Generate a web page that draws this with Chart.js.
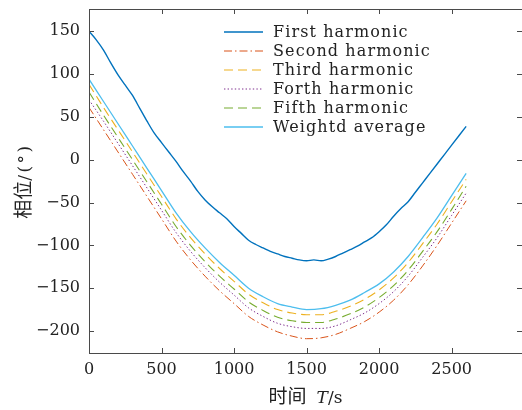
<!DOCTYPE html>
<html>
<head>
<meta charset="utf-8">
<script src="https://cdn.jsdelivr.net/npm/chart.js@4/dist/chart.umd.min.js"></script>
<style>
  html, body { margin: 0; padding: 0; background: #fff; overflow: hidden; }
  #wrap { width: 522px; height: 410px; }
</style>
</head>
<body>
<div id="wrap"><canvas id="phase" width="522" height="410"></canvas></div>
<script>
// Sampling instants (s)
const timeFine = [0,50,100,150,200,250,300,350,400,450,500,550,600,650,700,750,800,850,900,950,
  1000,1050,1100,1150,1200,1250,1300,1350,1400,1450,1500,1550,1600,1650,1700,1750,1800,1850,1900,1950,
  2000,2050,2100,2150,2200,2250,2300,2350,2400,2450,2500,2550,2600];
const timeCoarse = [0,100,200,300,400,500,600,700,800,900,1000,1100,1200,1300,1400,1500,1600,1700,1800,1900,
  2000,2100,2200,2300,2400,2500,2600];

// Phase (degrees) of each harmonic
const firstHarmonic = [150,140,128,113,99,87,75,60,45,31,20,9,-2,-14,-25,-37,-47,-55,-62,-69,
  -78,-86,-94,-99,-103,-107,-110,-113,-115,-117,-118,-117,-118,-116,-113,-109,-105,-101,-96,-91,
  -84,-76,-66,-57,-49,-38,-27,-16,-5,6,17,28,39];
const secondHarmonic = [61,35,9,-17,-43,-69,-95,-117,-136,-153,-168,-183,-193,-201,-206,-209,-208,-204,-197,-189,
  -178,-164,-146,-124,-100,-74,-48];
const thirdHarmonic = [88,61,35,9,-17,-43,-69,-91,-110,-127,-142,-157,-167,-175,-179,-181,-181,-177,-171,-163,
  -152,-138,-120,-98,-75,-49,-23];
const forthHarmonic = [70,45,19,-7,-33,-59,-85,-107,-126,-143,-158,-173,-183,-191,-195,-197,-197,-194,-187,-179,
  -168,-154,-136,-114,-91,-65,-39];
const fifthHarmonic = [79,52,26,0,-26,-52,-78,-100,-119,-136,-151,-166,-176,-184,-188,-190,-190,-186,-180,-172,
  -161,-147,-129,-107,-84,-58,-31];
const weightedAverage = [94,68,42,16,-10,-36,-62,-84,-103,-120,-135,-150,-160,-168,-172,-175,-174,-170,-164,-155,
  -145,-131,-113,-91,-68,-42,-16];

const seriesNames = ['First harmonic','Second harmonic','Third harmonic','Forth harmonic','Fifth harmonic','Weightd average'];
const xTickValues = [0,500,1000,1500,2000,2500];
const yTickValues = [150,100,50,0,-50,-100,-150,-200];

const SERIF = '"DejaVu Serif", "Liberation Serif", serif';
const CJK = '"Noto Sans CJK SC", "Noto Sans CJK JP", sans-serif';
const INK = '#222';
const FRAME = '#4a4a4a';

function pairs(xs, ys) { return ys.map((y, i) => ({ x: xs[i], y })); }

const datasets = [
  { label: seriesNames[0], data: pairs(timeFine, firstHarmonic), borderColor: '#0072BD', borderWidth: 1.4 },
  { label: seriesNames[1], data: pairs(timeCoarse, secondHarmonic), borderColor: '#D95319', borderWidth: 1, borderDash: [8,3,1.5,3] },
  { label: seriesNames[2], data: pairs(timeCoarse, thirdHarmonic), borderColor: '#EDB120', borderWidth: 1.1, borderDash: [9,5] },
  { label: seriesNames[3], data: pairs(timeCoarse, forthHarmonic), borderColor: '#7E2F8E', borderWidth: 1, borderDash: [1.4,2.2] },
  { label: seriesNames[4], data: pairs(timeCoarse, fifthHarmonic), borderColor: '#77AC30', borderWidth: 1.1, borderDash: [9,5] },
  { label: seriesNames[5], data: pairs(timeCoarse, weightedAverage), borderColor: '#4DBEEE', borderWidth: 1.3 }
].map(d => Object.assign({
  pointRadius: 0,
  fill: false,
  cubicInterpolationMode: 'monotone'
}, d));

// Closed frame with inward tick marks on all four sides
const framePlugin = {
  id: 'frame',
  afterDatasetsDraw(chart) {
    const { ctx, chartArea: ca, scales } = chart;
    ctx.save();
    ctx.strokeStyle = FRAME;
    ctx.lineWidth = 1;
    ctx.strokeRect(Math.round(ca.left) + 0.5, Math.round(ca.top) + 0.5,
      Math.round(ca.right - ca.left), Math.round(ca.bottom - ca.top));
    const len = 5;
    ctx.beginPath();
    xTickValues.forEach(v => {
      const x = Math.round(scales.x.getPixelForValue(v)) + 0.5;
      ctx.moveTo(x, ca.bottom); ctx.lineTo(x, ca.bottom - len);
      ctx.moveTo(x, ca.top); ctx.lineTo(x, ca.top + len);
    });
    yTickValues.forEach(v => {
      const y = Math.round(scales.y.getPixelForValue(v)) + 0.5;
      ctx.moveTo(ca.left, y); ctx.lineTo(ca.left + len, y);
      ctx.moveTo(ca.right, y); ctx.lineTo(ca.right - len, y);
    });
    ctx.stroke();
    ctx.restore();
  }
};

// Series key in the upper right of the plot
const keyPlugin = {
  id: 'seriesKey',
  afterDraw(chart) {
    const { ctx, chartArea: ca } = chart;
    const sampleLeft = ca.left + 135, sampleRight = ca.left + 174, textLeft = ca.left + 184;
    const rowTop = Math.round(ca.top) + 23, rowStep = 19;
    ctx.save();
    chart.data.datasets.forEach((ds, i) => {
      const y = rowTop + i * rowStep;
      ctx.beginPath();
      ctx.strokeStyle = ds.borderColor;
      ctx.lineWidth = ds.borderWidth;
      ctx.setLineDash(ds.borderDash || []);
      ctx.moveTo(sampleLeft, y);
      ctx.lineTo(sampleRight, y);
      ctx.stroke();
      ctx.setLineDash([]);
      ctx.fillStyle = INK;
      ctx.font = '16px ' + SERIF;
      ctx.letterSpacing = '1.1px';
      ctx.textBaseline = 'middle';
      ctx.textAlign = 'left';
      ctx.fillText(ds.label, textLeft, y + 1);
    });
    ctx.restore();
  }
};

// Axis titles with mixed CJK / serif / italic runs
function drawRuns(ctx, runs, startX, baseY) {
  let x = startX;
  runs.forEach(r => {
    ctx.font = r.font;
    ctx.letterSpacing = r.spacing || '0px';
    ctx.fillText(r.text, x, baseY);
    x += ctx.measureText(r.text).width + (r.gap || 0);
  });
}
function runsWidth(ctx, runs) {
  let w = 0;
  runs.forEach(r => {
    ctx.font = r.font;
    ctx.letterSpacing = r.spacing || '0px';
    w += ctx.measureText(r.text).width + (r.gap || 0);
  });
  return w;
}
const titlePlugin = {
  id: 'axisTitles',
  afterDraw(chart) {
    const { ctx, chartArea: ca } = chart;
    ctx.save();
    ctx.fillStyle = INK;
    ctx.textBaseline = 'alphabetic';
    ctx.textAlign = 'left';
    const xRuns = [
      { text: '时间', font: '19px ' + CJK, gap: 10 },
      { text: 'T', font: 'italic 17px ' + SERIF },
      { text: '/s', font: '17px ' + SERIF }
    ];
    const cx = (ca.left + ca.right) / 2;
    drawRuns(ctx, xRuns, cx - runsWidth(ctx, xRuns) / 2, 403);

    const yRuns = [
      { text: '相位', font: '19px ' + CJK },
      { text: '/(°)', font: '17px ' + SERIF, spacing: '2.5px' }
    ];
    ctx.translate(30, (ca.top + ca.bottom) / 2);
    ctx.rotate(-Math.PI / 2);
    drawRuns(ctx, yRuns, -runsWidth(ctx, yRuns) / 2, 0);
    ctx.restore();
  }
};

new Chart(document.getElementById('phase'), {
  type: 'line',
  data: { datasets },
  plugins: [framePlugin, keyPlugin, titlePlugin],
  options: {
    responsive: false,
    animation: false,
    devicePixelRatio: 1,
    layout: { padding: { top: 9, right: 0, bottom: 0, left: 0 } },
    plugins: { legend: { display: false }, tooltip: { enabled: false } },
    scales: {
      x: {
        type: 'linear',
        min: 0,
        max: 2985,
        afterFit(scale) { scale.height = 57; scale.paddingLeft = 0; scale.paddingRight = 0; },
        afterBuildTicks(scale) { scale.ticks = xTickValues.map(v => ({ value: v })); },
        grid: { display: false, drawTicks: false },
        border: { display: false },
        ticks: {
          color: INK,
          font: { family: SERIF, size: 16 },
          padding: 7,
          maxRotation: 0,
          callback: v => String(v)
        }
      },
      y: {
        type: 'linear',
        min: -225.7,
        max: 176,
        afterFit(scale) { scale.width = 89; scale.paddingTop = 0; scale.paddingBottom = 0; },
        afterBuildTicks(scale) { scale.ticks = yTickValues.map(v => ({ value: v })); },
        grid: { display: false, drawTicks: false },
        border: { display: false },
        ticks: {
          color: INK,
          font: { family: SERIF, size: 16 },
          padding: 9,
          callback: v => (v < 0 ? '\u2212' : '') + Math.abs(v)
        }
      }
    }
  }
});
</script>
</body>
</html>
